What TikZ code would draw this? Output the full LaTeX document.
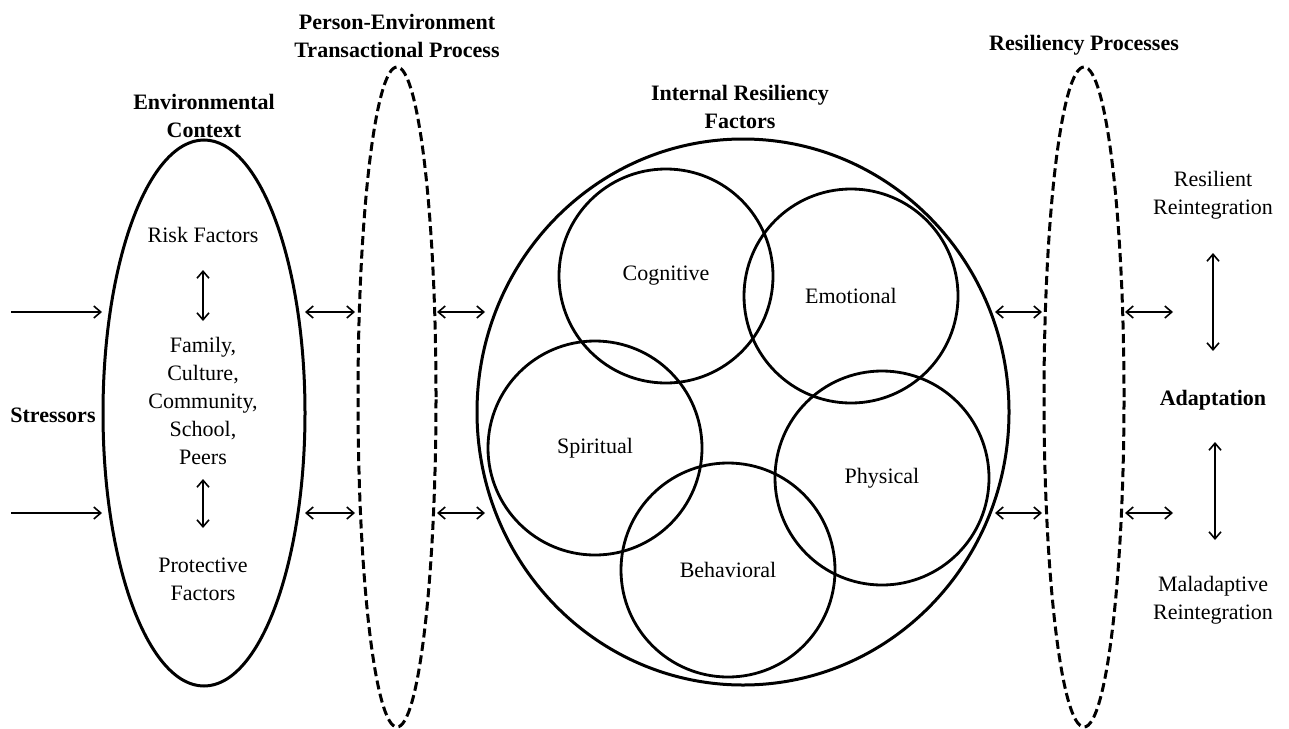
\documentclass[tikz,border=0pt]{standalone}
\usepackage{fontspec}
\setmainfont{Liberation Serif}
\usetikzlibrary{shapes.geometric,arrows.meta}
\tikzset{
  lbl/.style={align=center, inner sep=0pt, font=\fontsize{22}{28}\selectfont},
  ttl/.style={lbl, font=\fontsize{22}{28}\selectfont\bfseries},
  solidell/.style={draw, ellipse, line width=3pt, inner sep=0pt},
  dashell/.style={draw, ellipse, line width=3pt, inner sep=0pt, dash pattern=on 9pt off 4.5pt},
  factor/.style={draw, circle, line width=2.8pt, inner sep=0pt, minimum size=214pt, lbl},
  arr/.style={line width=1.6pt, -{Straight Barb[length=7pt,width=12pt]}},
  darr/.style={line width=1.6pt, {Straight Barb[length=7pt,width=12pt]}-{Straight Barb[length=7pt,width=12pt]}}
}
\begin{document}
\begin{tikzpicture}[x=1pt,y=-1pt]
\useasboundingbox (0,0) rectangle (1289,728);
\fill[white] (0,0) rectangle (1289,728);

% containers
\node[solidell, minimum width=202pt, minimum height=546pt] (env) at (204,413) {};
\node[dashell, minimum width=78pt, minimum height=660pt] (pe) at (397,397) {};
\node[solidell, minimum width=532pt, minimum height=546pt] (irf) at (743,412) {};
\node[dashell, minimum width=80pt, minimum height=660pt] (rp) at (1084,397) {};

% factor circles
\node[factor] (cog) at (666,276) {Cognitive};
\node[factor] (emo) at (851,296) {Emotional};
\node[factor] (spi) at (595,448) {Spiritual};
\node[factor] (phy) at (882,478) {Physical};
\node[factor] (beh) at (728,570) {Behavioral};

% titles
\node[ttl] (tenv) at (204,116) {Environmental\\Context};
\node[ttl] (tpe) at (397,36) {Person-Environment\\Transactional Process};
\node[ttl] (tirf) at (740,107) {Internal Resiliency\\Factors};
\node[ttl] (trp) at (1084,45) {Resiliency Processes};
\node[ttl] (stress) at (53,415) {Stressors};
\node[ttl] (adapt) at (1213,400) {Adaptation};

% labels
\node[lbl] (risk) at (203,235) {Risk Factors};
\node[lbl] (fam) at (203,401) {Family,\\Culture,\\Community,\\School,\\Peers};
\node[lbl] (prot) at (203,579) {Protective\\Factors};
\node[lbl] (resil) at (1213,195) {Resilient\\Reintegration};
\node[lbl] (malad) at (1213,600) {Maladaptive\\Reintegration};

% arrow end points
\coordinate (s1) at (11,312);   \coordinate (s1e) at (102,312);
\coordinate (s2) at (11,513);   \coordinate (s2e) at (102,513);
\coordinate (a1) at (305,312);  \coordinate (a1e) at (355,312);
\coordinate (a2) at (305,513);  \coordinate (a2e) at (355,513);
\coordinate (b1) at (437,312);  \coordinate (b1e) at (485,312);
\coordinate (b2) at (437,513);  \coordinate (b2e) at (485,513);
\coordinate (c1) at (995,312);  \coordinate (c1e) at (1042,312);
\coordinate (c2) at (995,513);  \coordinate (c2e) at (1042,513);
\coordinate (d1) at (1125,312); \coordinate (d1e) at (1173,312);
\coordinate (d2) at (1125,513); \coordinate (d2e) at (1173,513);
\coordinate (v1) at (203,270);  \coordinate (v1e) at (203,321);
\coordinate (v2) at (203,479);  \coordinate (v2e) at (203,528);
\coordinate (w1) at (1213,253); \coordinate (w1e) at (1213,351);
\coordinate (w2) at (1215,442); \coordinate (w2e) at (1215,540);

\draw[arr] (s1) -- (s1e);
\draw[arr] (s2) -- (s2e);
\draw[darr] (a1) -- (a1e);
\draw[darr] (a2) -- (a2e);
\draw[darr] (b1) -- (b1e);
\draw[darr] (b2) -- (b2e);
\draw[darr] (c1) -- (c1e);
\draw[darr] (c2) -- (c2e);
\draw[darr] (d1) -- (d1e);
\draw[darr] (d2) -- (d2e);
\draw[darr] (v1) -- (v1e);
\draw[darr] (v2) -- (v2e);
\draw[darr] (w1) -- (w1e);
\draw[darr] (w2) -- (w2e);
\end{tikzpicture}
\end{document}
